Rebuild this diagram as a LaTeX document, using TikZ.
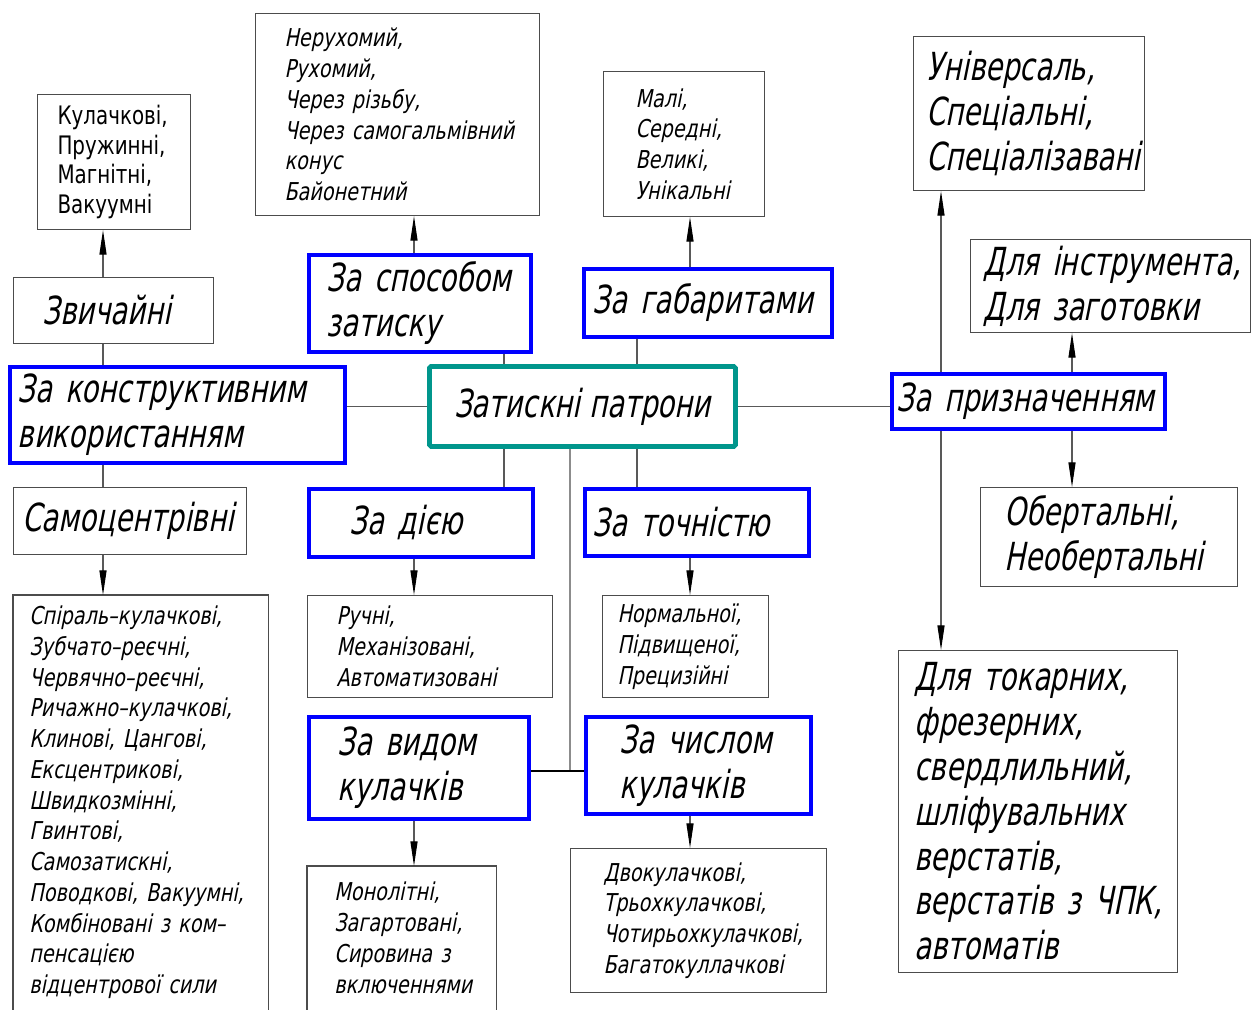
\documentclass[tikz,border=0pt]{standalone}
\usepackage{fontspec}
\usetikzlibrary{arrows.meta}
\newfontfamily\gostit{DejaVu Sans}[FakeStretch=0.78,FakeSlant=0.2]
\newfontfamily\gostlg{DejaVu Sans}[FakeStretch=0.715,FakeSlant=0.2]
\newfontfamily\gostup{DejaVu Sans}[FakeStretch=0.78]
\newlength\pxu
\setlength\pxu{0.02cm}
\definecolor{rootteal}{RGB}{0,150,140}
\tikzset{
	bx/.style n args={4}{anchor=north west, minimum width=#1\pxu, minimum height=#2\pxu,
		inner xsep=#3\pxu, inner ysep=0pt, text width=#4\pxu, align=left},
	plain/.style={draw=black!70, line width=0.6pt},
	cls/.style={draw=blue, line width=2pt},
	root/.style={draw=rootteal, line width=2.8pt, rounded corners=1pt},
	lg/.style={font=\gostlg\fontsize{22}{25.5}\selectfont},
	sm/.style={font=\gostit\fontsize{14}{17.5}\selectfont},
	up/.style={font=\gostup\fontsize{14.5}{16.8}\selectfont},
	ln/.style={draw=black!65, line width=0.6pt},
	arr/.style={ln, -{Triangle[length=14pt,width=4pt,black]}}
}
\begin{document}
\begin{tikzpicture}[x=0.02cm,y=-0.02cm]
	\useasboundingbox (0,0) rectangle (1253,1009);
	
	\node[plain, up, bx={153}{135}{20}{113}] (kul) at (37,94) {Кулачкові,\\ Пружинні,\\ Магнітні,\\ Вакуумні};
	\node[plain, sm, bx={284}{202}{29}{226}] (ner) at (255,13) {Нерухомий,\\ Рухомий,\\ Через~різьбу,\\ Через~самогальмівний\\ конус\\ Байонетний};
	\node[plain, sm, bx={161}{145}{32}{97}] (mal) at (603,71) {Малі,\\ Середні,\\ Великі,\\ Унікальні};
	\node[plain, lg, bx={231}{154}{13}{205}] (uni) at (913,36) {Універсаль,\\ Спеціальні,\\ Спеціалізавані};
	\node[plain, lg, bx={280}{93}{13}{254}] (dli) at (970,239) {Для~інструмента,\\ Для~заготовки};
	
	\node[plain, lg, bx={200}{66}{29}{142}] (zv) at (13,277) {Звичайні};
	\node[cls, lg, bx={222}{97}{18}{186}] (spo) at (307,253) {За~способом\\ затиску};
	\node[cls, lg, bx={248}{68}{9}{230}] (gab) at (582,267) {За~габаритами};
	
	\node[cls, lg, bx={335}{96}{8}{319}] (kon) at (8,365) {За~конструктивним\\ використанням};
	\node[root, lg, anchor=north west, minimum width=306\pxu, minimum height=80\pxu] (cen) at (427,364) {Затискні~патрони};
	\node[cls, lg, bx={273}{55}{5}{263}] (pri) at (890,372) {За~призначенням};
	
	\node[plain, lg, bx={233}{67}{9}{215}] (sam) at (13,487) {Самоцентрівні};
	\node[cls, lg, bx={224}{68}{41}{142}] (dii) at (307,487) {За~дією};
	\node[cls, lg, bx={224}{67}{8}{208}] (toc) at (583,487) {За~точністю};
	\node[plain, lg, bx={257}{99}{24}{209}] (obe) at (980,487) {Обертальні,\\ Необертальні};
	
	\node[sm, bx={255}{414}{16}{223}] (spi) at (13,595) {Спіраль–кулачкові,\\ Зубчато–реєчні,\\ Червячно–реєчні,\\ Ричажно–кулачкові,\\ Клинові,~Цангові,\\ Ексцентрикові,\\ Швидкозмінні,\\ Гвинтові,\\ Самозатискні,\\ Поводкові,~Вакуумні,\\ Комбіновані~з~ком–\\ пенсацією\\ відцентрової~сили};
	\draw[plain] (spi.south west) |- (spi.north east) -- (spi.south east);
	\node[plain, sm, bx={245}{102}{29}{187}] (ruc) at (307,595) {Ручні,\\ Механізовані,\\ Автоматизовані};
	\node[plain, sm, bx={166}{102}{15}{136}] (nor) at (602,595) {Нормальної,\\ Підвищеної,\\ Прецизійні};
	\node[cls, lg, bx={220}{102}{29}{162}] (vid) at (307,715) {За~видом\\ кулачків};
	\node[cls, lg, bx={225}{97}{34}{157}] (chi) at (584,715) {За~числом\\ кулачків};
	\node[plain, lg, bx={279}{322}{16}{247}] (tok) at (898,650) {Для~токарних,\\ фрезерних,\\ свердлильний,\\ шліфувальних\\ верстатів,\\ верстатів~з~ЧПК,\\ автоматів};
	\node[sm, bx={189}{143}{27}{135}] (mon) at (307,866) {Монолітні,\\ Загартовані,\\ Сировина~з\\ включеннями};
	\draw[plain] (mon.south west) |- (mon.north east) -- (mon.south east);
	\node[plain, sm, bx={256}{144}{33}{190}] (dvo) at (570,848) {Двокулачкові,\\ Трьохкулачкові,\\ Чотирьохкулачкові,\\ Багатокуллачкові};
	
	\coordinate (xa) at (103,0);
	\coordinate (xb) at (414,0);
	\coordinate (xc) at (504,0);
	\coordinate (xd) at (637,0);
	\coordinate (xe) at (690,0);
	\coordinate (xf) at (570,0);
	\coordinate (xg) at (941,0);
	\coordinate (xh) at (1072,0);
	\coordinate (ym) at (0,771);
	
	\draw[arr] (zv.north -| xa) -- (kul.south -| xa);
	\draw[ln] (zv.south -| xa) -- (kon.north -| xa);
	\draw[ln] (kon.south -| xa) -- (sam.north -| xa);
	\draw[arr] (sam.south -| xa) -- (spi.north -| xa);
	
	\draw[arr] (spo.north -| xb) -- (ner.south -| xb);
	\draw[arr] (dii.south -| xb) -- (ruc.north -| xb);
	\draw[arr] (vid.south -| xb) -- (mon.north -| xb);
	
	\draw[ln] (spo.south -| xc) -- (cen.north -| xc);
	\draw[ln] (cen.south -| xc) -- (dii.north -| xc);
	\draw[ln] (gab.south -| xd) -- (cen.north -| xd);
	\draw[ln] (cen.south -| xd) -- (toc.north -| xd);
	
	\draw[arr] (gab.north -| xe) -- (mal.south -| xe);
	\draw[arr] (toc.south -| xe) -- (nor.north -| xe);
	\draw[arr] (chi.south -| xe) -- (dvo.north -| xe);
	
	\draw[ln, draw=black!45] (cen.south -| xf) -- (xf |- ym);
	\draw[ln, draw=black] (vid.east |- ym) -- (chi.west |- ym);
	
	\draw[ln] (kon.east |- cen.west) -- (cen.west);
	\draw[ln] (cen.east) -- (pri.west |- cen.east);
	
	\draw[arr] (pri.north -| xg) -- (uni.south -| xg);
	\draw[arr] (pri.north -| xh) -- (dli.south -| xh);
	\draw[arr] (pri.south -| xh) -- (obe.north -| xh);
	\draw[arr] (pri.south -| xg) -- (tok.north -| xg);
\end{tikzpicture}
\end{document}
